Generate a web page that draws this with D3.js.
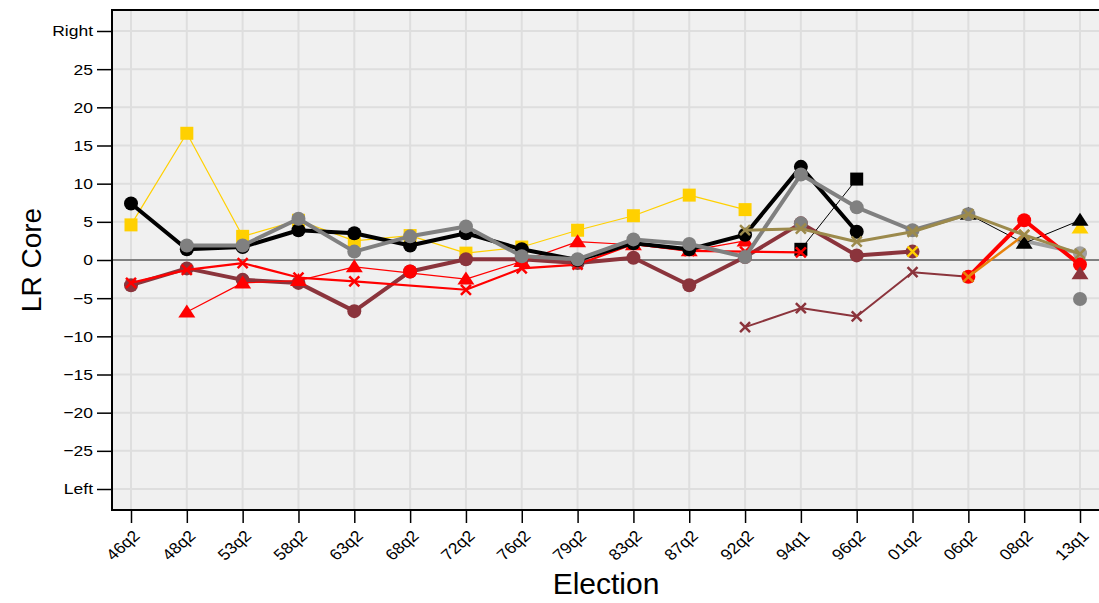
<!DOCTYPE html>
<html lang="en">
<head>
<meta charset="UTF-8">
<title>LR Core</title>
<script src="https://d3js.org/d3.v7.min.js"></script>
<style>
  body { margin:0; background:#fff; }
  svg { display:block; font-family:"Liberation Sans", Arial, sans-serif; }
</style>
</head>
<body>
<svg id="chart" width="1099" height="603"></svg>
<script>
var elections = ["46q2","48q2","53q2","58q2","63q2","68q2","72q2","76q2","79q2","83q2","87q2","92q2","94q1","96q2","01q2","06q2","08q2","13q1"];
var yTicks = [-30,-25,-20,-15,-10,-5,0,5,10,15,20,25,30];
var yTickLabels = ["Left","\u221225","\u221220","\u221215","\u221210","\u22125","0","5","10","15","20","25","Right"];

// one value per election, null where the series has no point
var yellowSq   = [4.6,16.6,3.1,5.2,2.5,3.2,0.9,1.7,3.9,5.8,8.5,6.6,null,null,null,null,null,null];
var darkRedX   = [null,null,null,null,null,null,null,null,null,null,null,-8.8,-6.3,-7.4,-1.6,-2.2,null,null];
var blackSq    = [null,null,null,null,null,null,null,null,null,null,null,null,1.4,10.6,null,null,null,null];
var darkRedDot = [-3.3,-1.1,-2.6,-3.0,-6.7,-1.5,0.1,0.1,-0.4,0.3,-3.3,0.4,4.8,0.6,1.1,null,null,null];
var redTri     = [null,-6.8,-3.0,-2.7,-0.9,null,-2.5,-0.2,2.4,2.0,1.2,2.5,null,null,null,null,null,null];
var redX       = [-3.0,-1.3,-0.4,-2.3,-2.8,null,-3.9,-1.1,-0.6,2.1,1.2,1.1,1.0,null,null,null,null,null];
var blackDot   = [7.4,1.4,1.7,3.9,3.5,1.9,3.5,1.4,0.0,2.2,1.4,3.3,12.2,3.7,null,null,null,null];
var greyDot2   = [null,null,null,null,null,null,null,null,null,null,null,null,null,null,null,null,2.5,0.9];
var blackTri   = [null,null,null,null,null,null,null,null,null,null,null,null,null,null,null,6.0,2.2,5.2];
var greyDot    = [null,1.9,1.9,5.4,1.1,3.1,4.4,0.5,0.1,2.7,2.1,0.4,11.2,6.9,3.9,6.0,null,null];
var greyPts    = [null,null,null,null,null,null,null,null,null,null,null,null,4.8,null,null,null,null,-5.1];
var redPts     = [null,null,null,null,null,-1.5,null,null,null,null,null,null,null,null,null,null,null,null];
var redDot     = [null,null,null,null,null,null,null,null,null,null,null,null,null,null,null,-2.2,5.2,-0.6];
var orangeX    = [null,null,null,null,null,null,null,null,null,null,null,null,null,null,null,-2.2,3.3,null];
var oliveX     = [null,null,null,null,null,null,null,null,null,null,null,3.9,4.1,2.4,3.7,6.0,3.3,0.8];
var yellowX    = [null,null,null,null,null,null,null,null,null,null,null,null,null,null,1.1,null,null,null];
var yellowTri  = [null,null,null,null,null,null,null,null,null,null,null,null,null,null,null,null,null,4.2];
var darkRedTri = [null,null,null,null,null,null,null,null,null,null,null,null,null,null,null,null,null,-1.8];

var series = [
  {v:yellowSq,   color:"#FFD000", lw:1.2, shape:"square"},
  {v:darkRedX,   color:"#8B343C", lw:2,   shape:"x"},
  {v:blackSq,    color:"#000",    lw:1,   shape:"square"},
  {v:darkRedDot, color:"#8B343C", lw:4,   shape:"circle"},
  {v:redTri,     color:"#FF0000", lw:1.2, shape:"triangle"},
  {v:redX,       color:"#FF0000", lw:2.2, shape:"x"},
  {v:blackDot,   color:"#000",    lw:4,   shape:"circle"},
  {v:greyDot2,   color:"#a0a0a0", lw:4,   shape:"circle"},
  {v:yellowTri,  color:"#FFD000", lw:0,   shape:"triangle"},
  {v:blackTri,   color:"#000",    lw:1,   shape:"triangle"},
  {v:greyDot,    color:"#808080", lw:4,   shape:"circle"},
  {v:greyPts,    color:"#808080", lw:0,   shape:"circle"},
  {v:redPts,     color:"#FF0000", lw:0,   shape:"circle"},
  {v:redDot,     color:"#FF0000", lw:4,   shape:"circle"},
  {v:orangeX,    color:"#E8820C", lw:2.5, shape:"x"},
  {v:oliveX,     color:"#9C8A4C", lw:3,   shape:"x"},
  {v:yellowX,    color:"#FFD000", lw:0,   shape:"x"},
  {v:darkRedTri, color:"#8B343C", lw:0,   shape:"triangle"}
];

(function(){
var svg = d3.select("#chart");
var pL = 112, pT = 10, pR = 1101, pB = 510;
var sx = 1.13; // tick labels are a little wider than tall in the reference

var x = d3.scalePoint().domain(elections).range([131, 1080]);
var y = d3.scaleLinear().domain([-32.75, 32.75]).range([pB, pT]);

// panel
svg.append("rect").attr("x", pL).attr("y", pT)
  .attr("width", pR-pL).attr("height", pB-pT).attr("fill", "#F0F0F0");

var grid = svg.append("g");
grid.selectAll(".hg").data(yTicks).enter().append("line")
  .attr("x1", pL).attr("x2", pR)
  .attr("y1", d=>y(d)).attr("y2", d=>y(d))
  .attr("stroke", "#DEDEDE").attr("stroke-width", 2);
grid.selectAll(".vg").data(elections).enter().append("line")
  .attr("x1", d=>x(d)).attr("x2", d=>x(d))
  .attr("y1", pT).attr("y2", pB)
  .attr("stroke", "#DEDEDE").attr("stroke-width", 2);
svg.append("line").attr("x1", pL).attr("x2", pR)
  .attr("y1", y(0)).attr("y2", y(0))
  .attr("stroke", "#808080").attr("stroke-width", 2);

// series
var line = d3.line().x(d=>x(d.e)).y(d=>y(d.v));
series.forEach(function(s){
  var pts = elections.map((e,i)=>({e:e, v:s.v[i]})).filter(d=>d.v!==null);
  var g = svg.append("g");
  if (s.lw > 0 && pts.length > 1) {
    g.append("path").datum(pts).attr("d", line)
      .attr("fill", "none").attr("stroke", s.color)
      .attr("stroke-width", s.lw).attr("stroke-linejoin", "round");
  }
  pts.forEach(function(d){
    var cx = x(d.e), cy = y(d.v);
    if (s.shape === "circle") {
      g.append("circle").attr("cx", cx).attr("cy", cy).attr("r", 7).attr("fill", s.color);
    } else if (s.shape === "square") {
      g.append("rect").attr("x", cx-6.5).attr("y", cy-6.5).attr("width", 13).attr("height", 13).attr("fill", s.color);
    } else if (s.shape === "triangle") {
      g.append("path").attr("d", "M"+cx+","+(cy-7.5)+"L"+(cx+8.5)+","+(cy+5.5)+"L"+(cx-8.5)+","+(cy+5.5)+"Z")
        .attr("fill", s.color);
    } else {
      var k = 5;
      g.append("path").attr("d", "M"+(cx-k)+","+(cy-k)+"L"+(cx+k)+","+(cy+k)+"M"+(cx-k)+","+(cy+k)+"L"+(cx+k)+","+(cy-k))
        .attr("stroke", s.color).attr("stroke-width", 2.5).attr("fill", "none");
    }
  });
});

// border
svg.append("rect").attr("x", pL).attr("y", pT)
  .attr("width", pR-pL).attr("height", pB-pT)
  .attr("fill", "none").attr("stroke", "#000").attr("stroke-width", 2);

// y axis
var yAxis = svg.append("g").attr("transform", "translate("+pL+",0)")
  .call(d3.axisLeft(y).tickValues(yTicks).tickSize(15).tickPadding(4)
    .tickFormat((d,i)=>yTickLabels[i]));
yAxis.attr("font-size", 15.5).attr("font-family", "Liberation Sans, Arial, sans-serif");
yAxis.select(".domain").remove();
yAxis.selectAll(".tick line").attr("stroke", "#000").attr("stroke-width", 1.5);
yAxis.selectAll(".tick text").attr("fill", "#000")
  .attr("x", -19/sx).attr("transform", "scale("+sx+",1)");

// x axis
var xAxis = svg.append("g").attr("transform", "translate(0,"+pB+")")
  .call(d3.axisBottom(x).tickSize(13).tickPadding(4));
xAxis.attr("font-size", 15.5).attr("font-family", "Liberation Sans, Arial, sans-serif");
xAxis.select(".domain").remove();
xAxis.selectAll(".tick line").attr("stroke", "#000").attr("stroke-width", 1.5);
xAxis.selectAll(".tick text").attr("fill", "#000")
  .attr("text-anchor", "end").attr("dy", "0.35em")
  .attr("transform", "translate(5,23) scale("+sx+",1) rotate(-45)").attr("y", 0).attr("x", 0);

// axis titles
svg.append("text").attr("x", 606).attr("y", 594).attr("text-anchor", "middle")
  .attr("font-size", 30).text("Election");
svg.append("text").attr("transform", "translate(41,260) rotate(-90)")
  .attr("text-anchor", "middle").attr("font-size", 28).text("LR Core");
})();
</script>
</body>
</html>
